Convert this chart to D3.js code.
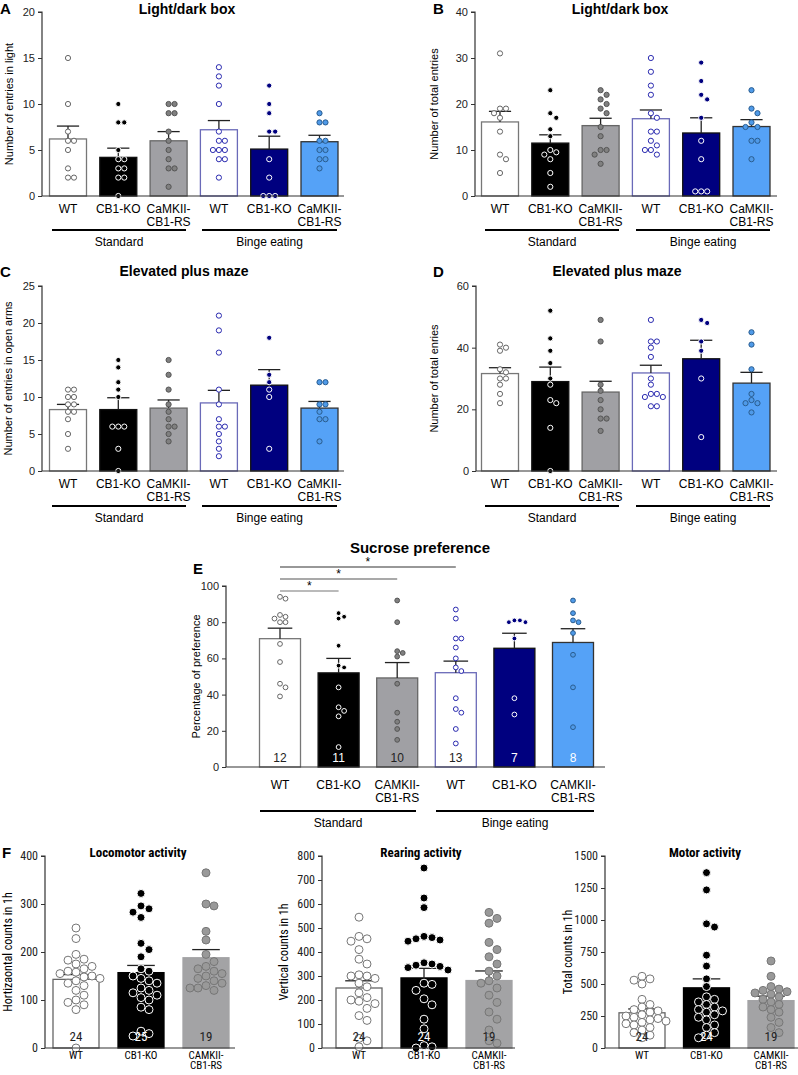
<!DOCTYPE html>
<html><head><meta charset="utf-8">
<script src="https://cdn.jsdelivr.net/npm/d3@7"></script>
<style>body{margin:0;background:#fff}svg{display:block;font-family:Arial,"Liberation Sans",sans-serif}</style>
</head><body><svg id="c" width="798" height="1075"></svg>
<script>
// ---------- data ----------
const catsAD = ["WT","CB1-KO","CaMKII-|CB1-RS","WT","CB1-KO","CaMKII-|CB1-RS"];
const catsE  = ["WT","CB1-KO","CAMKII-|CB1-RS","WT","CB1-KO","CAMKII-|CB1-RS"];
const catsF  = ["WT","CB1-KO","CAMKII-|CB1-RS"];
const groups = ["Standard","Binge eating"];

const aMeans=[6.2,4.2,6.0,7.2,5.1,5.9], aSem=[1.4,1.0,1.0,1.0,1.4,0.7];
const aPts=[[15,10,7,6,6,5,3,2,2],[10,8,8,5,4,4,3,3,2,2,0],[10,10,9,9,7,6,5,4,3,3,1],
 [14,13,12,10,7,6,6,5,5,5,4,4,2],[12,10,9,7,7,4,2,0,0,0],[9,8,8,6,6,5,5,4,4,3]];
const bMeans=[16.1,11.5,15.3,16.8,13.7,15.1], bSem=[2.3,1.8,1.6,1.9,3.3,1.5];
const bPts=[[31,19,19,18,17,14,9,8,5],[23,18,17,14.5,13,10,9.5,9,8,5,2],[23,22,21,20,19,18,15,13,10,10,9,7],
 [30,27,24,22,18,17,14,14,12,11,10,10,9],[29,25,22,21,17,12,8,1,1,1],[23,19,18,16,15,15,12,12,8]];
const cMeans=[8.3,8.3,8.5,9.2,11.6,8.5], cSem=[0.7,1.6,1.1,1.7,2.1,0.9];
const cPts=[[11,11,10,10,9,9,8,8,7,5,3],[15,14,12,11,10,6,6,6,3,0],[15,13,11,9,8,7,6,6,5,4],
 [21,19,16,11,9,7,6,6,5,4,3,2],[18,13,12,11,10,3],[12,12,9,9,8,7,7,4]];
const dMeans=[31.6,29.0,25.6,31.8,36.4,28.5], dSem=[1.9,4.7,3.5,2.5,6.0,3.5];
const dPts=[[41,39,40,33,32,30,30,28,25,22],[52,43,39,35,30,28,22,23,14,0],[49,42,28,26,23,20,17,17,13],
 [49,42,42,40,37,30,28,25,25,24,24,21,21],[48,49,42,39,30,11],[45,41,33,25,23,22,22,19]];
const eMeans=[70.9,52.0,49.2,52.1,65.6,68.8], eSem=[5.8,8.0,8.5,6.4,8.3,7.6];
const eN=[12,11,10,13,7,8];
const ePts=[[94,93,84,83,82,80,80,68,58,46,44,39],[85,83,82,67,56,55,44,33,31,28,11],
 [92,80,64,63,61,46,30,25,21,15],[87,82,71,71,66,60,55,53,38,32,30,21,13],
 [81,81,80,80,71,38,29],[92,85,81,80,74,62,44,22]];
const locMeans=[143,157,188], locSem=[10,15,17], locN=[24,25,19];
const locPts=[[250,228,195,185,183,175,170,165,160,158,155,150,148,145,140,135,130,120,110,100,95,90,80,0],
 [322,296,290,283,272,218,205,190,165,160,150,145,140,135,125,120,115,110,105,100,85,80,35,30,25],
 [365,300,296,243,225,195,180,170,165,160,155,150,145,140,135,130,125,125,120]];
const rearMeans=[250,292,281], rearSem=[30,40,40], rearN=[24,24,19];
const rearPts=[[545,465,455,445,410,370,350,305,300,300,290,270,255,230,210,200,195,185,165,135,115,40,30,5],
 [750,625,585,465,460,455,450,445,355,350,345,340,335,325,270,265,240,205,180,120,80,10,5,0],
 [565,540,520,440,410,380,350,320,300,280,270,250,220,190,150,120,75,30,20]];
const motMeans=[275,470,370], motSem=[30,70,35], motN=[24,24,19];
const motPts=[[560,540,530,500,380,340,320,300,290,280,260,250,240,230,220,210,200,190,180,160,140,120,100,80],
 [1370,1235,970,945,725,640,540,480,400,380,360,340,320,300,290,280,260,240,220,180,160,120,100,80],
 [680,560,480,460,450,440,430,420,400,380,360,340,320,300,280,240,200,160,120]];

// ---------- styles ----------
const barFill6=["#fff","#000","#a0a0a4","#fff","#00007f","#55a2f7"];
const barStroke6=["#777","#111","#666","#6a6ab8","#111","#333"];
const ptFill6=["#fff","#000","#808080","#fff","#00007f","#4f9ae8"];
const ptStroke6=["#666","#fff","#555","#2a2ab0","#fff","#2a5d90"];

const svg=d3.select("#c");

function swarm(vals,y,cx,r,sp){
  const sorted=vals.map((v,i)=>({v,py:y(v)})).sort((a,b)=>a.py-b.py);
  const placed=[];
  const offs=[0];
  for(let i=1;i<20;i++){offs.push(i*r*sp);offs.push(-i*r*sp);}
  sorted.forEach(p=>{
    let x;
    for(let k=0;k<offs.length;k++){
      x=cx+offs[k];
      if(!placed.some(q=>Math.hypot(q.x-x,q.py-p.py)<r*1.9))break;
    }
    p.x=x;placed.push(p);
  });
  return placed;
}

function panel(o){
  const g=svg.append("g");
  const y=d3.scaleLinear().domain([0,o.max]).range([o.y0,o.y1]);
  const x=d3.scalePoint().domain(d3.range(o.means.length)).range([o.c0,o.c0+o.step*(o.means.length-1)]);
  o.means.forEach((m,i)=>{
    g.append("rect").attr("x",x(i)-o.bw/2).attr("y",y(m)).attr("width",o.bw).attr("height",o.y0-y(m))
     .attr("fill",o.bf[i]).attr("stroke",o.bs[i]).attr("stroke-width",o.bsw||1.3);
    const e=y(m+o.sem[i]);
    const ec=o.errc?o.errc[i]:"#222";
    g.append("line").attr("x1",x(i)).attr("x2",x(i)).attr("y1",y(m)).attr("y2",e).attr("stroke",ec).attr("stroke-width",1.3);
    g.append("line").attr("x1",x(i)-o.bw*0.3).attr("x2",x(i)+o.bw*0.3).attr("y1",e).attr("y2",e).attr("stroke",ec).attr("stroke-width",1.3);
  });
  o.pts.forEach((vals,i)=>{
    swarm(vals,y,x(i),o.r,o.sp||2.3).forEach(p=>{
      g.append("circle").attr("cx",p.x).attr("cy",p.py).attr("r",o.r)
       .attr("fill",o.pf[i]).attr("stroke",o.ps[i]).attr("stroke-width",1);
    });
  });
  const ya=d3.axisLeft(y).tickValues(o.ticks).tickSize(4).tickFormat(d3.format("d"));
  const ag=g.append("g").attr("transform",`translate(${o.ax},0)`).call(ya);
  ag.select(".domain").attr("d",`M-4,${y(o.max)}H0V${o.y0}`).attr("stroke","#333").attr("stroke-width",1.2);
  ag.selectAll(".tick line").attr("stroke","#333");
  ag.selectAll("text").attr("font-size",o.fs).attr("fill","#222").attr("font-family",o.font||null);
  g.append("line").attr("x1",o.ax).attr("x2",o.axEnd).attr("y1",o.y0).attr("y2",o.y0).attr("stroke","#333").attr("stroke-width",1.2);
  o.cats.forEach((c,i)=>{
    c.split("|").forEach((t,j)=>g.append("text").attr("x",x(i)).attr("y",o.y0+o.lab1+j*o.labGap)
      .attr("text-anchor","middle").attr("font-size",o.lfs||o.fs+1).attr("font-family",o.font||null).text(t));
  });
  if(o.groups){
    o.groups.forEach((gr,k)=>{
      g.append("line").attr("x1",gr[0]).attr("x2",gr[1]).attr("y1",o.gy).attr("y2",o.gy).attr("stroke","#000").attr("stroke-width",2.2);
      g.append("text").attr("x",(gr[0]+gr[1])/2).attr("y",o.gy+16).attr("text-anchor","middle").attr("font-size",o.fs+1)
       .attr("font-family",o.font||null).text(groups[k]);
    });
  }
  if(o.ns){
    o.ns.forEach((n,i)=>g.append("text").attr("x",x(i)).attr("y",o.nY).attr("text-anchor","middle")
      .attr("font-size",o.fs+1).attr("font-family",o.font||null).attr("fill",o.nc[i]).text(n));
  }
  g.append("text").attr("x",o.tx).attr("y",o.ty).attr("text-anchor","middle").attr("font-weight","bold")
   .attr("font-size",o.tfs||14).attr("font-family",o.font||null).text(o.title);
  g.append("text").attr("transform",`translate(${o.ylx},${(o.y0+y(o.max))/2}) rotate(-90)`).attr("text-anchor","middle")
   .attr("font-size",o.fs).attr("font-family",o.font||null).text(o.ylab);
  if(o.letter) g.append("text").attr("x",o.lx).attr("y",o.ly).attr("font-weight","bold").attr("font-size",15).text(o.letter);
  return {x,y,g};
}

const base={bf:barFill6,bs:barStroke6,pf:ptFill6,ps:ptStroke6,r:2.6,bw:37,step:50.3,fs:11,lab1:17,labGap:13};
panel({...base,means:aMeans,sem:aSem,pts:aPts,max:20,ticks:[0,5,10,15,20],y0:196,y1:12,ax:42,axEnd:344,c0:68,
  cats:catsAD,groups:[[52,186],[202,337]],gy:230,tx:187,ty:14,title:"Light/dark box",ylab:"Number of entries in light",ylx:13,letter:"A",lx:0,ly:14});
panel({...base,means:bMeans,sem:bSem,pts:bPts,max:40,ticks:[0,10,20,30,40],y0:196,y1:12,ax:475,axEnd:777,c0:500,
  cats:catsAD,groups:[[485,619],[636,770]],gy:230,tx:620,ty:14,title:"Light/dark box",ylab:"Number of total entries",ylx:438,letter:"B",lx:433,ly:14});
panel({...base,means:cMeans,sem:cSem,pts:cPts,max:25,ticks:[0,5,10,15,20,25],y0:471,y1:286,ax:42,axEnd:344,c0:68,
  cats:catsAD,groups:[[52,186],[202,337]],gy:506,tx:184,ty:276,title:"Elevated plus maze",ylab:"Number of entries in open arms",ylx:12,letter:"C",lx:0,ly:277});
panel({...base,means:dMeans,sem:dSem,pts:dPts,max:60,ticks:[0,20,40,60],y0:471,y1:286,ax:476,axEnd:777,c0:500,
  cats:catsAD,groups:[[485,619],[636,770]],gy:506,tx:617,ty:276,title:"Elevated plus maze",ylab:"Number of total enries",ylx:438,letter:"D",lx:433,ly:277});
const E=panel({...base,means:eMeans,sem:eSem,pts:ePts,max:100,ticks:[0,20,40,60,80,100],y0:767,y1:586,ax:226,axEnd:605,c0:280,step:58.6,bw:41,r:2.4,
  cats:catsE,lab1:22,groups:[[260,416],[436,594]],gy:811,ns:eN,nY:762,nc:["#222","#fff","#222","#222","#fff","#fff"],
  tx:420,ty:553,tfs:15,title:"Sucrose preference",ylab:"Percentage of preference",ylx:200,letter:"E",lx:193,ly:574});
[[1,591,"#777"],[2,579,"#555"],[3,567,"#333"]].forEach(([j,yy,c])=>{
  const x1=E.x(0),x2=E.x(j);
  E.g.append("line").attr("x1",x1).attr("x2",x2).attr("y1",yy).attr("y2",yy).attr("stroke",c).attr("stroke-width",1.2);
  E.g.append("text").attr("x",(x1+x2)/2).attr("y",yy-1).attr("text-anchor","middle").attr("font-size",12).text("*");
});

const fb={bf:["#fff","#000","#a3a3a5"],bs:["#666","#000","#a3a3a5"],pf:["#fff","#000","#999"],ps:["#777","#fff","#777"],
  errc:["#222","#222","#222"],r:4,sp:2.0,bw:46,step:65,fs:12,lfs:11,lab1:11,labGap:10,font:"'Liberation Sans Narrow','Roboto Condensed',Arial",y0:1048,y1:856,nY:1041,
  nc:["#222","#fff","#222"],tfs:13};
panel({...fb,means:locMeans,sem:locSem,pts:locPts,max:400,ticks:[0,100,200,300,400],ax:45,axEnd:235,c0:76,cats:catsF,ns:locN,
  tx:138,ty:857,title:"Locomotor activity",ylab:"Hortizaontal counts in 1h",ylx:12,letter:"F",lx:2,ly:858});
panel({...fb,means:rearMeans,sem:rearSem,pts:rearPts,max:800,ticks:d3.range(0,801,100),ax:322,axEnd:515,c0:359,cats:catsF,ns:rearN,
  tx:421,ty:857,title:"Rearing activity",ylab:"Vertical counts in 1h",ylx:288,letter:null});
panel({...fb,means:motMeans,sem:motSem,pts:motPts,max:1500,ticks:[0,250,500,750,1000,1250,1500],ax:605,axEnd:798,c0:642,step:64.5,cats:catsF,ns:motN,
  tx:705,ty:857,title:"Motor activity",ylab:"Total counts in 1h",ylx:572,letter:null});
</script></body></html>
